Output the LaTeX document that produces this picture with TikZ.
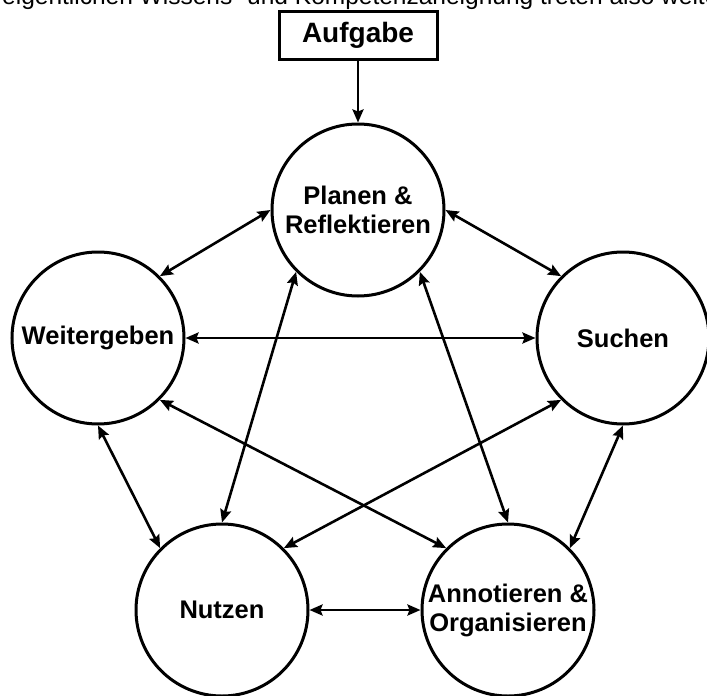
\documentclass[tikz,border=0pt]{standalone}
\usepackage{fontspec}
\setmainfont{Liberation Sans}
\usetikzlibrary{positioning,arrows.meta}

\begin{document}
\begin{tikzpicture}[auto,node distance=1cm,
		phase/.style={circle,draw,line width=3pt,minimum size=172pt,inner sep=0pt,
			align=center,font=\fontsize{25.5}{29}\selectfont\bfseries},
		task/.style={rectangle,draw,line width=3pt,minimum width=158pt,minimum height=48pt,
			inner sep=0pt,font=\fontsize{28}{30}\selectfont\bfseries},
		link/.style={{Stealth[length=13pt,width=11pt,inset=2pt]}-{Stealth[length=13pt,width=11pt,inset=2pt]},line width=2.6pt}]
				\useasboundingbox (0pt,0pt) rectangle (707pt,-696pt);
				% line of running text, cut off by the top edge
				\node (intro) [anchor=base west,inner sep=0pt,font=\fontsize{24.5}{29}\selectfont]
								at (2pt,-5pt) {eigentlichen Wissens- und Kompetenzaneignung treten also weite};
				% Now the centre phase (ID=plan)
				\node[phase] (plan) at (358pt,-210pt) {Planen \&\\Reflektieren};
				\node[task] (aufgabe) [on grid,above=175pt of plan] {Aufgabe};
				% Now the other four phases round it
				\node[phase] (weiter) [on grid,below left=128pt and 260pt of plan] {Weitergeben};
				\node[phase] (suchen) [on grid,below right=128pt and 265pt of plan] {Suchen};
				\node[phase] (nutzen) [on grid,below left=400pt and 136pt of plan] {Nutzen};
				\node[phase] (annot) [on grid,below right=400pt and 150pt of plan] {Annotieren \&\\Organisieren};
				% Draw the task arrow and the edges between every two phases
				\path (aufgabe.south) edge[-{Stealth[length=13pt,width=11pt,inset=2pt]},line width=2.6pt] (plan.north);
				\path (plan.west) edge[link] (weiter.north east)
							(plan.east) edge[link] (suchen.north west)
							(plan.south west) edge[link] (nutzen.north)
							(plan.south east) edge[link] (annot.north);
				\path (weiter.east) edge[link] (suchen.west)
							(weiter.south) edge[link] (nutzen.north west)
							(weiter.south east) edge[link] (annot.north west);
				\path (suchen.south west) edge[link] (nutzen.north east)
							(suchen.south) edge[link] (annot.north east);
				\path (nutzen.east) edge[link] (annot.west);
			\end{tikzpicture}
\end{document}
